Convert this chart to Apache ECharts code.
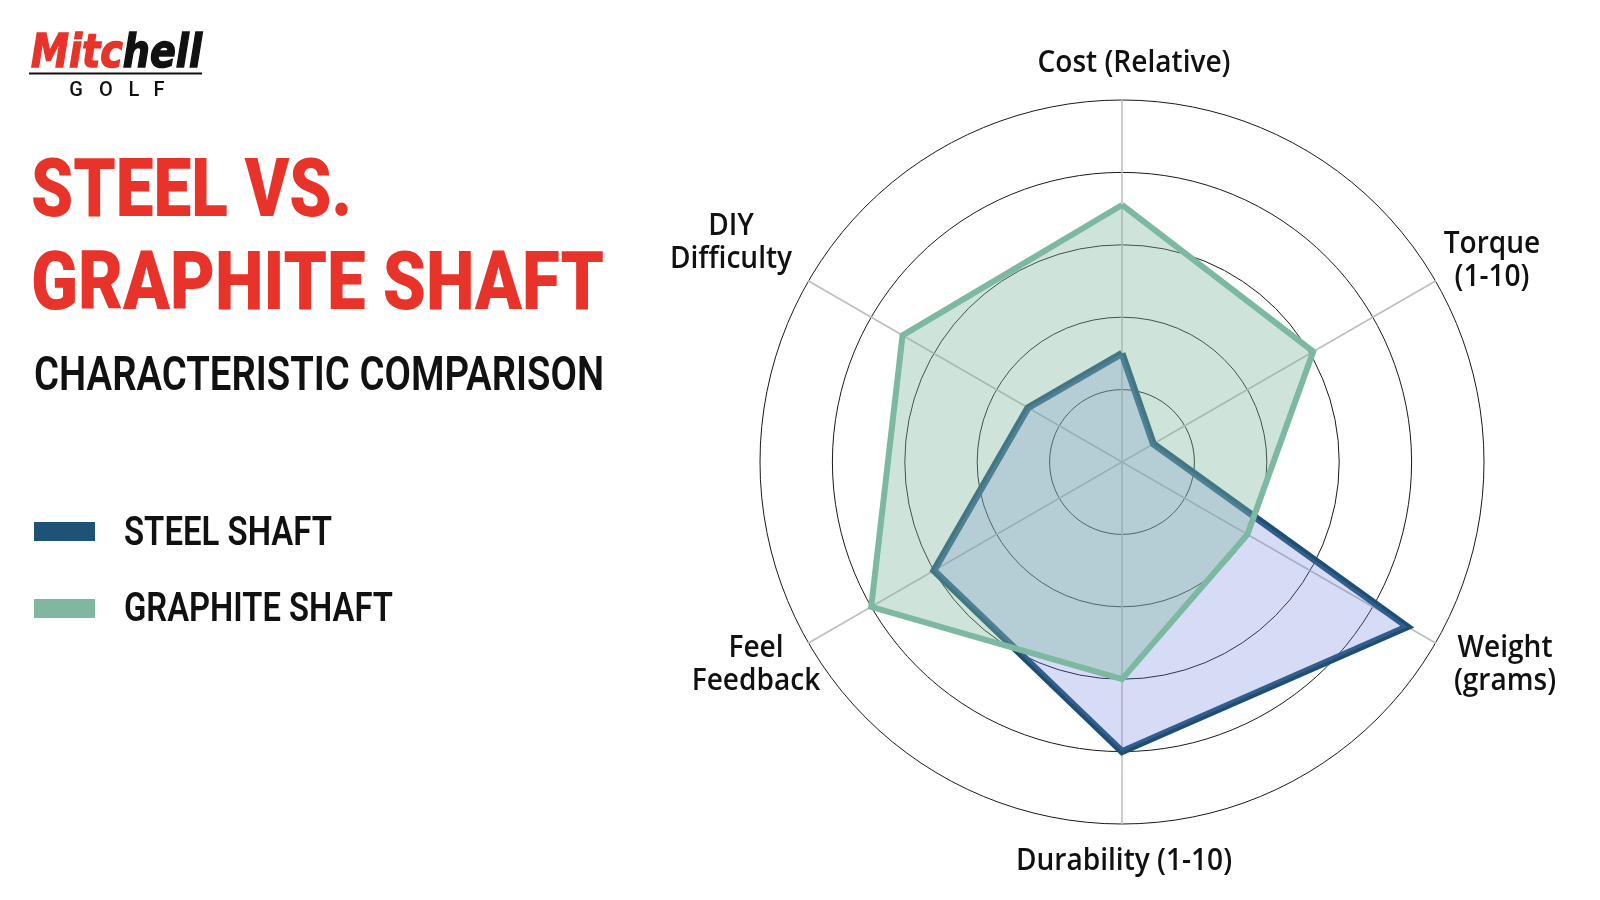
<!DOCTYPE html>
<html>
<head>
<meta charset="utf-8">
<title>Steel vs. Graphite Shaft</title>
<script src="https://cdn.jsdelivr.net/npm/echarts@6/dist/echarts.min.js"></script>
<style>
  html, body { margin: 0; padding: 0; background: #fff; }
  #chart { width: 1600px; height: 900px; }
</style>
</head>
<body>
<div id="chart"></div>
<script>
// indicators, counter-clockwise from the top (ECharts radar order)
const indicators = ['Cost (Relative)', 'DIY\nDifficulty', 'Feel\nFeedback', 'Durability (1-10)', 'Weight\n(grams)', 'Torque\n(1-10)']
const maxValue = 10
const seriesNames = ['STEEL SHAFT', 'GRAPHITE SHAFT']
const steelValues = [3, 3, 6, 8, 9.1, 1]
const graphiteValues = [7.1, 7, 8, 6, 4, 6.1]

const steelColor = '#1e4f70'
const graphiteColor = '#7db8a2'
const red = '#e8332a'

// label anchors (text centre) for the indicator names
const nameAnchors = [[1134, 63], [731, 243], [756, 665], [1124, 861], [1505, 665], [1492, 261]]

// squeeze text horizontally so it fills the width seen in the picture
const ctx = document.createElement('canvas').getContext('2d')
function fit (text, font, width) {
  ctx.font = font
  const w = Math.max(...text.split('\n').map(s => ctx.measureText(s).width))
  return width / w
}
function textW (text, font) {
  ctx.font = font
  return ctx.measureText(text).width
}

function label (text, x, y, size, weight, family, color, width, align) {
  const font = weight + ' ' + size + 'px ' + family
  const s = width ? fit(text, font, width) : 1
  return {
    type: 'text',
    x: x,
    y: y,
    scaleX: s,
    style: {
      text: text,
      fontSize: size,
      fontWeight: weight,
      fontFamily: family,
      fill: color,
      align: align || 'left',
      verticalAlign: 'middle',
      lineHeight: size * 1.1
    }
  }
}

const titleFamily = 'Roboto'
const nameFont = '600 30px "Open Sans"'
const nameScale = fit(indicators[0], nameFont, 193)

const graphics = []

// logo
const logoFont = 'italic 900 46px "DejaVu Sans"'
const logoScale = fit('Mitchell', logoFont, 171)
const mitcW = textW('Mitc', logoFont)
graphics.push({
  type: 'group',
  x: 31,
  y: 55,
  scaleX: logoScale,
  children: [{
    type: 'text',
    x: 0,
    y: 0,
    style: {
      text: 'Mitc',
      fontSize: 46,
      fontWeight: 900,
      fontStyle: 'italic',
      fontFamily: 'DejaVu Sans',
      fill: red,
      stroke: red,
      lineWidth: 1.5,
      verticalAlign: 'middle',
      shadowColor: '#000',
      shadowOffsetX: -2,
      shadowOffsetY: 2
    }
  }, {
    type: 'text',
    x: mitcW,
    y: 0,
    style: {
      text: 'hell',
      fontSize: 46,
      fontWeight: 900,
      fontStyle: 'italic',
      fontFamily: 'DejaVu Sans',
      fill: '#111',
      stroke: '#111',
      lineWidth: 1.5,
      verticalAlign: 'middle'
    }
  }]
})
graphics.push({
  type: 'line',
  shape: { x1: 29, y1: 73.5, x2: 202, y2: 73.5 },
  style: { stroke: '#111', lineWidth: 2 }
})
;['G', 'O', 'L', 'F'].forEach((c, i) => {
  graphics.push(label(c, [76, 106, 134, 159][i], 90.5, 20, 500, 'Roboto', '#111', 0, 'center'))
})

// titles
graphics.push(label('STEEL VS.', 31, 195, 82, 900, titleFamily, red, 321))
graphics.push(label('GRAPHITE SHAFT', 31, 288, 82, 900, titleFamily, red, 573))
graphics.push(label('CHARACTERISTIC COMPARISON', 34, 378, 49, 600, titleFamily, '#111', 570))

// legend
graphics.push({ type: 'rect', shape: { x: 34, y: 522, width: 61, height: 19 }, style: { fill: '#1e5276' } })
graphics.push({ type: 'rect', shape: { x: 34, y: 599, width: 61, height: 19 }, style: { fill: '#7fb7a1' } })
graphics.push(label(seriesNames[0], 124, 535, 41, 600, titleFamily, '#111', 208))
graphics.push(label(seriesNames[1], 124, 611, 41, 600, titleFamily, '#111', 269))

// indicator names
indicators.forEach((name, i) => {
  graphics.push({
    type: 'text',
    x: nameAnchors[i][0],
    y: nameAnchors[i][1],
    scaleX: nameScale,
    style: {
      text: name,
      fontSize: 30,
      fontWeight: 600,
      fontFamily: 'Open Sans',
      fill: '#111',
      align: 'center',
      verticalAlign: 'middle',
      lineHeight: 33
    }
  })
})

const option = {
  backgroundColor: '#fff',
  animation: false,
  radar: {
    center: [1122, 462],
    radius: 362,
    startAngle: 90,
    shape: 'circle',
    splitNumber: 5,
    indicator: indicators.map(n => ({ name: n, max: maxValue, min: 0 })),
    axisName: { show: false },
    axisLabel: { show: false },
    axisTick: { show: false },
    splitArea: { show: false },
    splitLine: {
      lineStyle: { color: '#1a1a1a', width: 1 }
    },
    axisLine: {
      lineStyle: { color: '#bdbdbd', width: 1.5 }
    }
  },
  series: [{
    type: 'radar',
    symbol: 'none',
    data: [{
      name: seriesNames[0],
      value: steelValues,
      lineStyle: { color: steelColor, width: 7, join: 'miter' },
      itemStyle: { color: steelColor },
      areaStyle: { color: 'rgba(110, 128, 224, 0.28)', opacity: 1 }
    }, {
      name: seriesNames[1],
      value: graphiteValues,
      lineStyle: { color: graphiteColor, width: 6, join: 'miter' },
      itemStyle: { color: graphiteColor },
      areaStyle: { color: 'rgba(125, 183, 160, 0.38)', opacity: 1 }
    }]
  }],
  graphic: graphics
}

const myChart = echarts.init(document.getElementById('chart'))
myChart.setOption(option)
</script>
</body>
</html>
